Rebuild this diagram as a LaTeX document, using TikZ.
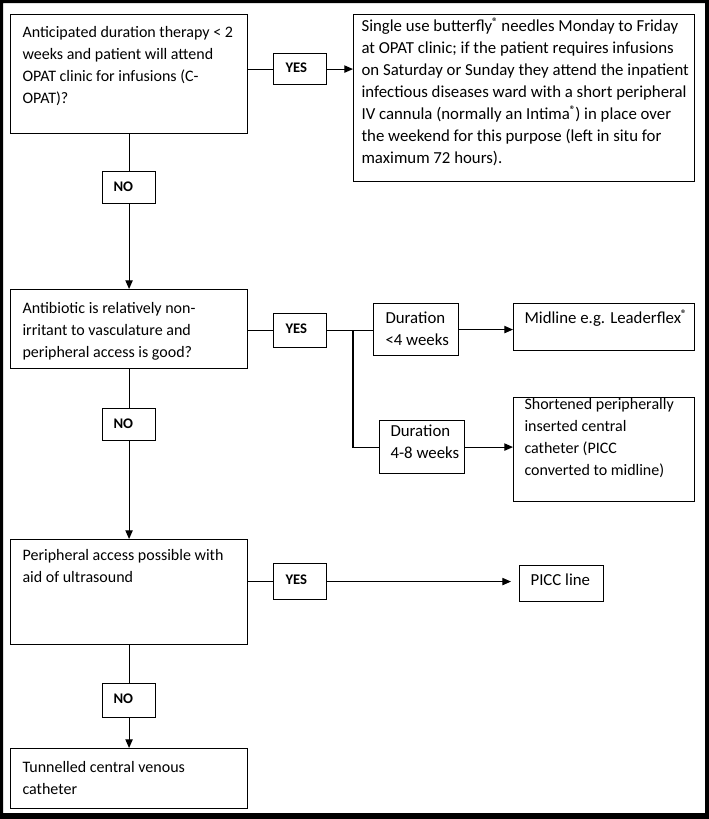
\documentclass[tikz,border=0pt]{standalone}
\usepackage{fontspec}
\setmainfont{Carlito}
\usetikzlibrary{arrows.meta}
\newdimen\pxu
\pxu=0.75pt
\newcommand{\bx}[5]{\parbox[c][#2\pxu][t]{#1\pxu}{\raggedright\leftskip=#3\pxu\relax\rule{0pt}{#4\pxu}#5\par}}
\newcommand{\reg}{\raisebox{0.38em}{\fontsize{8}{8}\selectfont\bfseries ®}}
\begin{document}
\begin{tikzpicture}[x=0.75pt,y=-0.75pt,
  box/.style={draw, line width=0.85pt, inner sep=0pt, anchor=north west},
  every node/.style={font=\fontsize{12.6}{16.5}\selectfont},
  lbox/.style={box, font=\fontsize{12}{16.5}\selectfont},
  lbl/.style={box, font=\fontsize{11}{16.5}\selectfont\bfseries},
  con/.style={line width=0.85pt},
  arr/.style={con, -{Triangle[length=6.5pt,width=5.5pt]}}]
\useasboundingbox (0,0) rectangle (709,819);
\fill[black, even odd rule] (0,0) rectangle (709,819) (3,3) rectangle (705,813);

\node[lbox] (b1) at (10,14) {\bx{237}{119}{12}{23}{Anticipated duration therapy < 2\\weeks and patient will attend\\OPAT clinic for infusions (C-\\OPAT)?}};
\node[lbl] (yes1) at (273,53) {\bx{53}{31}{12}{19}{YES}};
\node[box] (b2) at (353,14) {\bx{341}{167}{8}{17}{Single use butterfly\reg{} needles Monday to Friday\\at OPAT clinic; if the patient requires infusions\\on Saturday or Sunday they attend the inpatient\\infectious diseases ward with a short peripheral\\IV cannula (normally an Intima\reg) in place over\\the weekend for this purpose (left in situ for\\maximum 72 hours).}};
\node[lbl] (no1) at (102,171) {\bx{53}{32}{11}{20}{NO}};

\node[lbox] (b3) at (10,289) {\bx{237}{79}{12}{24}{Antibiotic is relatively non-\\irritant to vasculature and\\peripheral access is good?}};
\node[lbl] (yes2) at (273,313) {\bx{53}{34}{12}{20}{YES}};
\node[box] (dur1) at (373,303) {\bx{85}{52}{12}{20}{Duration\\<4 weeks}};
\node[box] (mid) at (513,303) {\bx{181}{47}{11}{20}{Midline e.g. Leaderflex\reg}};
\node[box] (dur2) at (379,420) {\bx{85}{53}{11}{16}{Duration\\4-8 weeks}};
\node[lbox] (sh) at (513,397) {\bx{181}{104}{11}{12}{Shortened peripherally\\inserted central\\catheter (PICC\\converted to midline)}};
\node[lbl] (no2) at (102,408) {\bx{53}{32}{11}{20}{NO}};

\node[lbox] (b4) at (10,539) {\bx{237}{105}{12}{21}{Peripheral access possible with\\aid of ultrasound}};
\node[lbl] (yes3) at (273,563) {\bx{53}{36}{12}{21}{YES}};
\node[box] (picc) at (519,565) {\bx{84}{36}{11}{20}{PICC line}};
\node[lbl] (no3) at (102,683) {\bx{53}{34}{11}{20}{NO}};
\node[lbox] (b5) at (10,748) {\bx{237}{60}{12}{24}{Tunnelled central venous\\catheter}};

\draw[con] (b1.east |- yes1.west) -- (yes1.west);
\draw[arr] (yes1.east) -- (yes1.east -| b2.west);
\draw[con] (b1.south) -- (no1.north);
\draw[arr] (no1.south) -- (b3.north);

\draw[con] (b3.east |- yes2.west) -- (yes2.west);
\draw[con] (yes2.east) -- (yes2.east -| dur1.west);
\coordinate (br) at (353,330);
\draw[con] (br) |- (dur2.west);
\draw[arr] (dur1.east) -- (dur1.east -| mid.west);
\draw[arr] (dur2.east) -- (dur2.east -| sh.west);
\draw[con] (b3.south) -- (no2.north);
\draw[arr] (no2.south) -- (b4.north);

\draw[con] (b4.east |- yes3.west) -- (yes3.west);
\draw[arr, shorten >=6pt] (yes3.east) -- (yes3.east -| picc.west);
\draw[con] (b4.south) -- (no3.north);
\draw[arr] (no3.south) -- (b5.north);
\end{tikzpicture}
\end{document}
